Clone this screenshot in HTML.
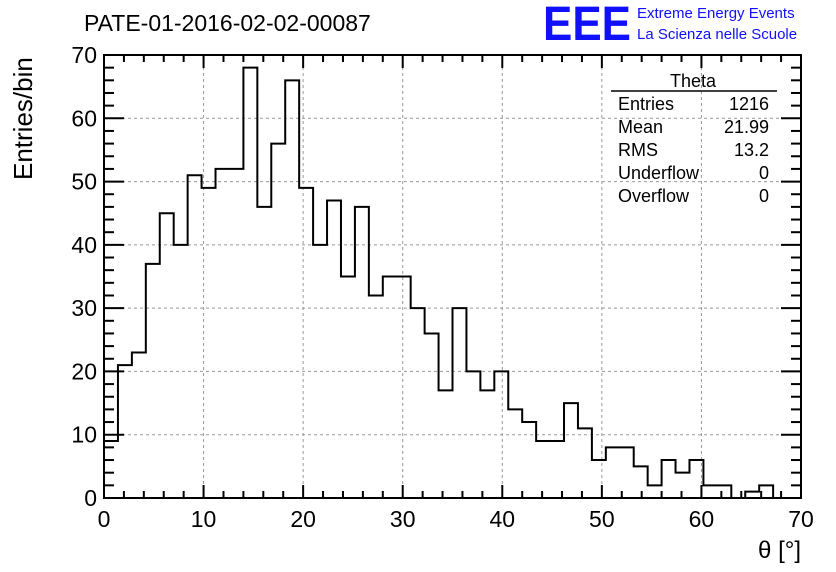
<!DOCTYPE html>
<html><head><meta charset="utf-8"><style>
body{margin:0;background:#fff;}
svg{display:block;font-family:"Liberation Sans",sans-serif;}
</style></head><body>
<svg id="chart" width="836" height="572" viewBox="0 0 836 572">
<rect width="836" height="572" fill="#fff"/>
<text x="84" y="31" font-size="23" fill="#000">PATE-01-2016-02-02-00087</text>
<g>
<text x="543" y="40" font-size="48" fill="#1010ff" font-weight="bold" textLength="88" lengthAdjust="spacingAndGlyphs">EEE</text>
<text x="637" y="18" font-size="15" fill="#1010ff">Extreme Energy Events</text>
<text x="637" y="39" font-size="15" fill="#1010ff">La Scienza nelle Scuole</text>
</g>
<g id="grid"></g>
<g id="axes"></g>
<path id="hist" fill="none" stroke="#000" stroke-width="2"/>
<rect x="104" y="55" width="697" height="443" fill="none" stroke="#000" stroke-width="2"/>
<text transform="translate(32,180) rotate(-90)" font-size="26">Entries/bin</text>
<text x="801" y="558" font-size="24" text-anchor="end">θ [°]</text>
<g font-size="18">
<text x="693" y="87" text-anchor="middle" font-size="18">Theta</text>
<line x1="611" y1="91" x2="777" y2="91" stroke="#000" stroke-width="1.5"/>
<text x="618" y="110">Entries</text><text x="769" y="110" text-anchor="end">1216</text>
<text x="618" y="133">Mean</text><text x="769" y="133" text-anchor="end">21.99</text>
<text x="618" y="156">RMS</text><text x="769" y="156" text-anchor="end">13.2</text>
<text x="618" y="179">Underflow</text><text x="769" y="179" text-anchor="end">0</text>
<text x="618" y="202">Overflow</text><text x="769" y="202" text-anchor="end">0</text>
</g>
</svg>
<script>
const binCounts=[9,21,23,37,45,40,51,49,52,52,68,46,56,66,49,40,47,35,46,32,35,35,30,26,17,30,20,17,20,14,12,9,9,15,11,6,8,8,5,2,6,4,6,2,2,0,1,2,0,0];
const binWidth=1.4;
const xTicks=[0,10,20,30,40,50,60,70];
const yTicks=[0,10,20,30,40,50,60,70];
const NS='http://www.w3.org/2000/svg';
const X=v=>104+v*(697/70);
const Y=v=>498-v*(443/70);
const grid=document.getElementById('grid'),axes=document.getElementById('axes');
function mk(tag,attrs,parent){const e=document.createElementNS(NS,tag);for(const k in attrs)e.setAttribute(k,attrs[k]);parent.appendChild(e);return e;}
xTicks.forEach(t=>{
 if(t>0&&t<70){const g=mk('line',{x1:X(t),x2:X(t),y1:55,y2:498,stroke:'#999','stroke-dasharray':'3,3','stroke-width':1},grid);
 
 }
 const l=mk('text',{x:X(t),y:527,'font-size':23,'text-anchor':'middle'},axes);l.textContent=t;
 
 
 mk('line',{x1:X(t),x2:X(t),y1:498,y2:485,stroke:'#000','stroke-width':2},axes);
 mk('line',{x1:X(t),x2:X(t),y1:55,y2:68,stroke:'#000','stroke-width':2},axes);
});
for(let v=0;v<=70;v+=2){if(v%10){mk('line',{x1:X(v),x2:X(v),y1:498,y2:491,stroke:'#000','stroke-width':2},axes);mk('line',{x1:X(v),x2:X(v),y1:55,y2:62,stroke:'#000','stroke-width':2},axes);}}
yTicks.forEach(t=>{
 if(t>0&&t<70){const g=mk('line',{x1:104,x2:801,y1:Y(t),y2:Y(t),stroke:'#999','stroke-dasharray':'3,3','stroke-width':1},grid);
 
 }
 const l=mk('text',{x:97,y:Y(t)+8,'font-size':23,'text-anchor':'end'},axes);l.textContent=t;
 
 
 mk('line',{x1:104,x2:124,y1:Y(t),y2:Y(t),stroke:'#000','stroke-width':2},axes);
 mk('line',{x1:781,x2:801,y1:Y(t),y2:Y(t),stroke:'#000','stroke-width':2},axes);
});
for(let v=0;v<=70;v+=2){if(v%10){mk('line',{x1:104,x2:114,y1:Y(v),y2:Y(v),stroke:'#000','stroke-width':2},axes);mk('line',{x1:791,x2:801,y1:Y(v),y2:Y(v),stroke:'#000','stroke-width':2},axes);}}
let d='M'+X(0)+','+Y(0);
binCounts.forEach((c,i)=>{d+=' L'+X(i*binWidth)+','+Y(c)+' L'+X((i+1)*binWidth)+','+Y(c);});
d+=' L'+X(binCounts.length*binWidth)+','+Y(0);
document.getElementById('hist').setAttribute('d',d);
</script>
</body></html>
